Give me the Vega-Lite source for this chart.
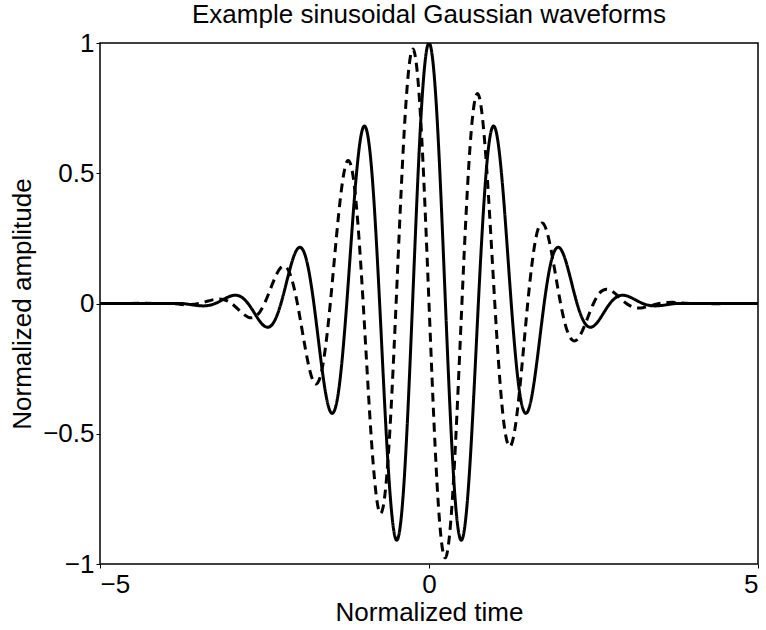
{
  "$schema": "https://vega.github.io/schema/vega-lite/v6.json",
  "autosize": "none",
  "width": 658,
  "height": 521,
  "padding": {"left": 100, "top": 43, "right": 8, "bottom": 66},
  "background": "white",
  "title": {"text": "Example sinusoidal Gaussian waveforms", "font": "Liberation Sans", "fontSize": 26, "fontWeight": "normal", "color": "black", "offset": 2},
  "config": {
    "view": {"stroke": "black", "strokeWidth": 1.5},
    "axis": {"labelFont": "Liberation Sans", "titleFont": "Liberation Sans", "labelFontSize": 26, "titleFontSize": 26, "titleFontWeight": "normal", "labelColor": "black", "titleColor": "black", "domain": false, "grid": false, "tickColor": "black", "tickSize": 4, "tickWidth": 1}
  },
  "data": {"values": [
    {"t": -5, "amp": 0, "wave": "solid"},
    {"t": -4, "amp": 0, "wave": "solid"},
    {"t": -3.75, "amp": 0, "wave": "solid"},
    {"t": -3.625, "amp": -0.0042, "wave": "solid"},
    {"t": -3.5, "amp": -0.0084, "wave": "solid"},
    {"t": -3.375, "amp": -0.0083, "wave": "solid"},
    {"t": -3.25, "amp": 0, "wave": "solid"},
    {"t": -3.125, "amp": 0.0156, "wave": "solid"},
    {"t": -3, "amp": 0.0297, "wave": "solid"},
    {"t": -2.875, "amp": 0.028, "wave": "solid"},
    {"t": -2.75, "amp": 0, "wave": "solid"},
    {"t": -2.625, "amp": -0.0479, "wave": "solid"},
    {"t": -2.5, "amp": -0.087, "wave": "solid"},
    {"t": -2.375, "amp": -0.0781, "wave": "solid"},
    {"t": -2.25, "amp": 0, "wave": "solid"},
    {"t": -2.125, "amp": 0.1212, "wave": "solid"},
    {"t": -2, "amp": 0.2096, "wave": "solid"},
    {"t": -1.875, "amp": 0.1791, "wave": "solid"},
    {"t": -1.75, "amp": 0, "wave": "solid"},
    {"t": -1.625, "amp": -0.2521, "wave": "solid"},
    {"t": -1.5, "amp": -0.4152, "wave": "solid"},
    {"t": -1.375, "amp": -0.3379, "wave": "solid"},
    {"t": -1.25, "amp": 0, "wave": "solid"},
    {"t": -1.125, "amp": 0.4313, "wave": "solid"},
    {"t": -1, "amp": 0.6766, "wave": "solid"},
    {"t": -0.875, "amp": 0.5243, "wave": "solid"},
    {"t": -0.75, "amp": 0, "wave": "solid"},
    {"t": -0.625, "amp": -0.607, "wave": "solid"},
    {"t": -0.5, "amp": -0.907, "wave": "solid"},
    {"t": -0.375, "amp": -0.6693, "wave": "solid"},
    {"t": -0.25, "amp": 0, "wave": "solid"},
    {"t": -0.125, "amp": 0.7028, "wave": "solid"},
    {"t": 0, "amp": 1, "wave": "solid"},
    {"t": 0.125, "amp": 0.7028, "wave": "solid"},
    {"t": 0.25, "amp": 0, "wave": "solid"},
    {"t": 0.375, "amp": -0.6693, "wave": "solid"},
    {"t": 0.5, "amp": -0.907, "wave": "solid"},
    {"t": 0.625, "amp": -0.607, "wave": "solid"},
    {"t": 0.75, "amp": 0, "wave": "solid"},
    {"t": 0.875, "amp": 0.5243, "wave": "solid"},
    {"t": 1, "amp": 0.6766, "wave": "solid"},
    {"t": 1.125, "amp": 0.4313, "wave": "solid"},
    {"t": 1.25, "amp": 0, "wave": "solid"},
    {"t": 1.375, "amp": -0.3379, "wave": "solid"},
    {"t": 1.5, "amp": -0.4152, "wave": "solid"},
    {"t": 1.625, "amp": -0.2521, "wave": "solid"},
    {"t": 1.75, "amp": 0, "wave": "solid"},
    {"t": 1.875, "amp": 0.1791, "wave": "solid"},
    {"t": 2, "amp": 0.2096, "wave": "solid"},
    {"t": 2.125, "amp": 0.1212, "wave": "solid"},
    {"t": 2.25, "amp": 0, "wave": "solid"},
    {"t": 2.375, "amp": -0.0781, "wave": "solid"},
    {"t": 2.5, "amp": -0.087, "wave": "solid"},
    {"t": 2.625, "amp": -0.0479, "wave": "solid"},
    {"t": 2.75, "amp": 0, "wave": "solid"},
    {"t": 2.875, "amp": 0.028, "wave": "solid"},
    {"t": 3, "amp": 0.0297, "wave": "solid"},
    {"t": 3.125, "amp": 0.0156, "wave": "solid"},
    {"t": 3.25, "amp": 0, "wave": "solid"},
    {"t": 3.375, "amp": -0.0083, "wave": "solid"},
    {"t": 3.5, "amp": -0.0084, "wave": "solid"},
    {"t": 3.625, "amp": -0.0042, "wave": "solid"},
    {"t": 3.75, "amp": 0, "wave": "solid"},
    {"t": 4, "amp": 0, "wave": "solid"},
    {"t": 5, "amp": 0, "wave": "solid"},
    {"t": -5, "amp": 0, "wave": "dashed"},
    {"t": -4, "amp": 0, "wave": "dashed"},
    {"t": -3.75, "amp": -0.0041, "wave": "dashed"},
    {"t": -3.625, "amp": -0.0042, "wave": "dashed"},
    {"t": -3.5, "amp": 0, "wave": "dashed"},
    {"t": -3.375, "amp": 0.0083, "wave": "dashed"},
    {"t": -3.25, "amp": 0.0161, "wave": "dashed"},
    {"t": -3.125, "amp": 0.0156, "wave": "dashed"},
    {"t": -3, "amp": 0, "wave": "dashed"},
    {"t": -2.875, "amp": -0.028, "wave": "dashed"},
    {"t": -2.75, "amp": -0.0521, "wave": "dashed"},
    {"t": -2.625, "amp": -0.0479, "wave": "dashed"},
    {"t": -2.5, "amp": 0, "wave": "dashed"},
    {"t": -2.375, "amp": 0.0781, "wave": "dashed"},
    {"t": -2.25, "amp": 0.1384, "wave": "dashed"},
    {"t": -2.125, "amp": 0.1212, "wave": "dashed"},
    {"t": -2, "amp": 0, "wave": "dashed"},
    {"t": -1.875, "amp": -0.1791, "wave": "dashed"},
    {"t": -1.75, "amp": -0.3023, "wave": "dashed"},
    {"t": -1.625, "amp": -0.2521, "wave": "dashed"},
    {"t": -1.5, "amp": 0, "wave": "dashed"},
    {"t": -1.375, "amp": 0.3379, "wave": "dashed"},
    {"t": -1.25, "amp": 0.5432, "wave": "dashed"},
    {"t": -1.125, "amp": 0.4313, "wave": "dashed"},
    {"t": -1, "amp": 0, "wave": "dashed"},
    {"t": -0.875, "amp": -0.5243, "wave": "dashed"},
    {"t": -0.75, "amp": -0.8028, "wave": "dashed"},
    {"t": -0.625, "amp": -0.607, "wave": "dashed"},
    {"t": -0.5, "amp": 0, "wave": "dashed"},
    {"t": -0.375, "amp": 0.6693, "wave": "dashed"},
    {"t": -0.25, "amp": 0.9759, "wave": "dashed"},
    {"t": -0.125, "amp": 0.7028, "wave": "dashed"},
    {"t": 0, "amp": 0, "wave": "dashed"},
    {"t": 0.125, "amp": -0.7028, "wave": "dashed"},
    {"t": 0.25, "amp": -0.9759, "wave": "dashed"},
    {"t": 0.375, "amp": -0.6693, "wave": "dashed"},
    {"t": 0.5, "amp": 0, "wave": "dashed"},
    {"t": 0.625, "amp": 0.607, "wave": "dashed"},
    {"t": 0.75, "amp": 0.8028, "wave": "dashed"},
    {"t": 0.875, "amp": 0.5243, "wave": "dashed"},
    {"t": 1, "amp": 0, "wave": "dashed"},
    {"t": 1.125, "amp": -0.4313, "wave": "dashed"},
    {"t": 1.25, "amp": -0.5432, "wave": "dashed"},
    {"t": 1.375, "amp": -0.3379, "wave": "dashed"},
    {"t": 1.5, "amp": 0, "wave": "dashed"},
    {"t": 1.625, "amp": 0.2521, "wave": "dashed"},
    {"t": 1.75, "amp": 0.3023, "wave": "dashed"},
    {"t": 1.875, "amp": 0.1791, "wave": "dashed"},
    {"t": 2, "amp": 0, "wave": "dashed"},
    {"t": 2.125, "amp": -0.1212, "wave": "dashed"},
    {"t": 2.25, "amp": -0.1384, "wave": "dashed"},
    {"t": 2.375, "amp": -0.0781, "wave": "dashed"},
    {"t": 2.5, "amp": 0, "wave": "dashed"},
    {"t": 2.625, "amp": 0.0479, "wave": "dashed"},
    {"t": 2.75, "amp": 0.0521, "wave": "dashed"},
    {"t": 2.875, "amp": 0.028, "wave": "dashed"},
    {"t": 3, "amp": 0, "wave": "dashed"},
    {"t": 3.125, "amp": -0.0156, "wave": "dashed"},
    {"t": 3.25, "amp": -0.0161, "wave": "dashed"},
    {"t": 3.375, "amp": -0.0083, "wave": "dashed"},
    {"t": 3.5, "amp": 0, "wave": "dashed"},
    {"t": 3.625, "amp": 0.0042, "wave": "dashed"},
    {"t": 3.75, "amp": 0.0041, "wave": "dashed"},
    {"t": 4, "amp": 0, "wave": "dashed"},
    {"t": 5, "amp": 0, "wave": "dashed"}
  ]},
  "mark": {"type": "line", "interpolate": "natural", "strokeWidth": 3, "color": "black", "clip": true},
  "encoding": {
    "x": {"field": "t", "type": "quantitative", "scale": {"domain": [-5, 5], "nice": false, "zero": false}, "axis": {"values": [-5, 0, 5], "title": "Normalized time", "format": "~g", "labelPadding": 3, "titlePadding": 2}},
    "y": {"field": "amp", "type": "quantitative", "scale": {"domain": [-1, 1], "nice": false}, "axis": {"values": [-1, -0.5, 0, 0.5, 1], "title": "Normalized amplitude", "format": "~g", "labelPadding": 2, "titlePadding": 7}},
    "strokeDash": {"field": "wave", "type": "nominal", "scale": {"domain": ["solid", "dashed"], "range": [[1, 0], [9, 6]]}, "legend": null}
  }
}
